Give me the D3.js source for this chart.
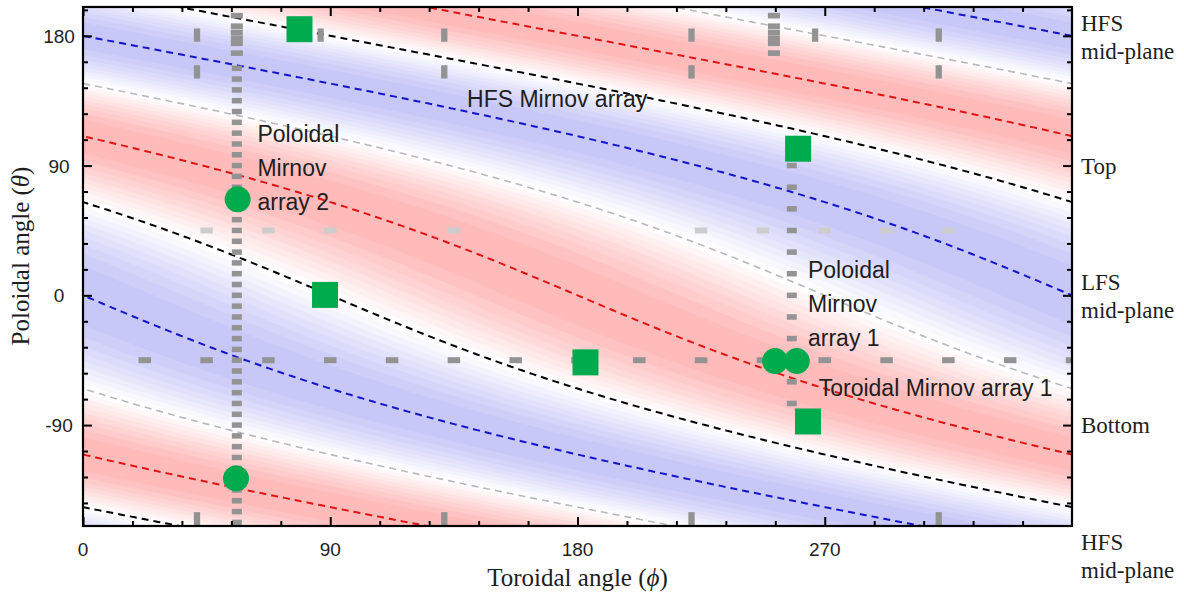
<!DOCTYPE html>
<html><head><meta charset="utf-8">
<script src="https://cdn.jsdelivr.net/npm/d3@7"></script>
<style>body{margin:0;background:#fff} svg{display:block}</style>
</head><body>
<svg id="chart" width="1184" height="597"></svg>
<script>
// ---------------- data ----------------
const xDomain = [0, 360];
const yDomain = [-160, 200];
const xMajorTicks = [0, 90, 180, 270];
const xMinorTicks = [18, 36, 54, 72, 108, 126, 144, 162, 198, 216, 234, 252, 288, 306, 324, 342];
const xTickLabels = ["0", "90", "180", "270"];
const yMajorTicks = [180, 90, 0, -90];
const yMinorTicks = [198, 162, 144, 126, 108, 72, 54, 36, 18, -18, -36, -54, -72, -108, -126, -144];
const yTickLabels = ["180", "90", "0", "-90"];
const rightLabelValues = [180, 90, 0, -90, -180];
const rightLabelTexts = [["HFS", "mid-plane"], ["Top"], ["LFS", "mid-plane"], ["Bottom"], ["HFS", "mid-plane"]];

// helical mode (m/n = 2/1) in straight-field-line poloidal angle
const modeM = 2, modeN = 1, shafranovLambda = 0.38;
const phaseLineNames  = ["blue", "gray", "red", "black"];
const phaseLineValues = [0, 270, 180, 90];
const phaseLineColors = ["#1414c8", "#b9b9b9", "#e01414", "#000000"];

// Mirnov coils
const torArray1Phi = [22.5, 45, 67.5, 90, 112.5, 135, 157.5, 180, 202.5, 225, 247.5, 270, 292.5, 315, 337.5, 360];
const torArray1Theta = -45;
const torArray2Phi = [45, 67.5, 90, 135, 225, 247.5, 270, 292.5, 315];
const torArray2Theta = 45;
const polArray2Phi = 56;
const polArray2Theta = [157.5, 150, 142.5, 135, 127.5, 120, 112.5, 105, 97.5, 90, 82.5, 75, 67.5, 60, 52.5, 45, 37.5, 30, 22.5, 15, 7.5, 0,
  -7.5, -15, -22.5, -30, -37.5, -45, -52.5, -60, -67.5, -75, -82.5, -90, -97.5, -105, -112.5, -120, -127.5, -135, -142.5, -150, -157.5];
const polArray1Phi = 258;
const polArray1Theta = [90, 75, 60, 45, 30, 15, 0, -15, -30, -45, -60, -75];
const hfsClusterPhi = [56, 251.5];
const hfsClusterTheta = [194, 186.7, 182.4, 178.4, 174.8, 168];
const hfsBarPhi = [41.5, 86.5, 131.5, 221.5, 266.5, 311.5];
const hfsBarThetaSets = [[180.5, 155, -155], [180.5], [180.5, 155, -155], [180.5, 155, -155], [180.5], [180.5, 155, -155]];

// green markers
const squarePhi   = [78.8, 260.3, 88.1, 182.9, 263.9];
const squareTheta = [184.6, 101.7, 0.3, -46.5, -87.5];
const circlePhi   = [56.3, 55.7, 251.9, 259.8];
const circleTheta = [66.6, -127, -45.6, -45.6];

// annotations
const annotTexts = [["Poloidal", "Mirnov", "array 2"], ["HFS Mirnov array"], ["Poloidal", "Mirnov", "array 1"], ["Toroidal Mirnov array 1"]];
const annotPhi   = [63.5, 139.8, 263.9, 267.8];
const annotTheta = [106.5, 130.5, 11.8, -70];

// ---------------- drawing ----------------
const plot = {left: 83, right: 1072, top: 7, bottom: 526};
const svg = d3.select("#chart");
const x = d3.scaleLinear().domain(xDomain).range([plot.left, plot.right]);
const y = d3.scaleLinear().domain(yDomain).range([plot.bottom, plot.top]);

svg.append("defs").append("clipPath").attr("id", "clip")
  .append("rect").attr("x", plot.left).attr("y", plot.top)
  .attr("width", plot.right - plot.left).attr("height", plot.bottom - plot.top);

const deg = Math.PI / 180;
const thetaStar = th => th - shafranovLambda * Math.sin(th * deg) / deg;

// background field
const nx = 361, ny = 361;
const values = new Float64Array(nx * ny);
for (let j = 0; j < ny; j++) {
  const th = yDomain[1] - j * (yDomain[1] - yDomain[0]) / (ny - 1);
  const ts = thetaStar(th);
  for (let i = 0; i < nx; i++) {
    const ph = xDomain[0] + i * (xDomain[1] - xDomain[0]) / (nx - 1);
    values[j * nx + i] = -Math.cos((modeM * ts + modeN * ph) * deg);
  }
}
const thresholds = d3.range(-1, 0.999, 0.1);
const contours = d3.contours().size([nx, ny]).thresholds(thresholds)(values);
const redMax = d3.rgb(255, 182, 182), blueMax = d3.rgb(196, 196, 248);
const fillColor = t => {
  const mid = t + 0.05;
  const a = Math.pow(Math.abs(mid), 1.15);
  return mid < 0 ? d3.interpolateRgb("#ffffff", blueMax)(a) : d3.interpolateRgb("#ffffff", redMax)(a);
};
const gridToPx = d3.geoTransform({
  point: function(gx, gy) {
    const ph = xDomain[0] + (gx - 0.5) * (xDomain[1] - xDomain[0]) / (nx - 1);
    const th = yDomain[1] - (gy - 0.5) * (yDomain[1] - yDomain[0]) / (ny - 1);
    this.stream.point(x(ph), y(th));
  }
});
const gField = svg.append("g").attr("clip-path", "url(#clip)");
gField.selectAll("path").data(contours).join("path")
  .attr("d", d3.geoPath(gridToPx))
  .attr("fill", d => fillColor(d.value))
  .attr("stroke", d => fillColor(d.value)).attr("stroke-width", 0.6);

// phase lines
const gLines = svg.append("g").attr("clip-path", "url(#clip)");
const thetaSamples = d3.range(-170, 210.01, 0.5);
const line = d3.line().defined(d => d.ph >= -5 && d.ph <= 365).x(d => x(d.ph)).y(d => y(d.th));
phaseLineValues.forEach((P, idx) => {
  for (let k = -2; k <= 3; k++) {
    const pts = thetaSamples.map(th => ({th, ph: (P + 360 * k - modeM * thetaStar(th)) / modeN}));
    if (!pts.some(d => d.ph >= 0 && d.ph <= 360)) continue;
    gLines.append("path").attr("d", line(pts)).attr("fill", "none")
      .attr("stroke", phaseLineColors[idx])
      .attr("stroke-width", phaseLineNames[idx] === "gray" ? 1.6 : 2)
      .attr("stroke-dasharray", "7,5");
  }
});

// coils
const gCoils = svg.append("g").attr("clip-path", "url(#clip)");
const coilGray = "#939393", coilLight = "#cdcdcd";
function rects(list, w, h, color) {
  gCoils.selectAll(null).data(list).join("rect")
    .attr("x", d => x(d[0]) - w / 2).attr("y", d => y(d[1]) - h / 2)
    .attr("width", w).attr("height", h).attr("fill", color);
}
rects(torArray2Phi.map(p => [p, torArray2Theta]), 12.5, 6, coilLight);
rects(torArray1Phi.map(p => [p, torArray1Theta]), 12.5, 6, coilGray);
rects(polArray2Theta.map(t => [polArray2Phi, t]), 10, 5.5, coilGray);
rects(polArray1Theta.map(t => [polArray1Phi, t]), 10, 5.5, coilGray);
hfsClusterPhi.forEach(p => rects(hfsClusterTheta.map(t => [p, t]), 12, 5.6, coilGray));
hfsBarPhi.forEach((p, i) => rects(hfsBarThetaSets[i].map(t => [p, t]), 6.3, 13.3, coilGray));

// green markers
const green = "#00ab4e";
const gMark = svg.append("g");
gMark.selectAll("rect").data(squarePhi.map((p, i) => [p, squareTheta[i]])).join("rect")
  .attr("x", d => x(d[0]) - 13).attr("y", d => y(d[1]) - 13)
  .attr("width", 26).attr("height", 26).attr("fill", green);
gMark.selectAll("circle").data(circlePhi.map((p, i) => [p, circleTheta[i]])).join("circle")
  .attr("cx", d => x(d[0])).attr("cy", d => y(d[1])).attr("r", 13).attr("fill", green);

// annotations
const gAnn = svg.append("g").attr("font-family", "'Liberation Sans', Arial, sans-serif")
  .attr("font-size", 23).attr("fill", "#1e1e1e");
annotTexts.forEach((lines, i) => {
  const t = gAnn.append("text").attr("x", x(annotPhi[i])).attr("y", y(annotTheta[i]));
  lines.forEach((s, j) => t.append("tspan").attr("x", x(annotPhi[i])).attr("dy", j === 0 ? 0 : 34).text(s));
});

// axes ticks (inward)
function ticks(axisGen, tf, vals, size) {
  const g = svg.append("g").attr("transform", tf)
    .call(axisGen.tickValues(vals).tickSizeInner(size).tickSizeOuter(0).tickFormat(""));
  g.select(".domain").remove();
  g.selectAll(".tick line").attr("stroke", "#000").attr("stroke-width", 2);
}
ticks(d3.axisBottom(x), `translate(0,${plot.bottom})`, xMajorTicks, -9);
ticks(d3.axisBottom(x), `translate(0,${plot.bottom})`, xMinorTicks, -5);
ticks(d3.axisTop(x), `translate(0,${plot.top})`, xMajorTicks, -9);
ticks(d3.axisTop(x), `translate(0,${plot.top})`, xMinorTicks, -5);
ticks(d3.axisLeft(y), `translate(${plot.left},0)`, yMajorTicks, -9);
ticks(d3.axisLeft(y), `translate(${plot.left},0)`, yMinorTicks, -5);
ticks(d3.axisRight(y), `translate(${plot.right},0)`, yMajorTicks, -9);
ticks(d3.axisRight(y), `translate(${plot.right},0)`, yMinorTicks, -5);

svg.append("rect").attr("x", plot.left).attr("y", plot.top)
  .attr("width", plot.right - plot.left).attr("height", plot.bottom - plot.top)
  .attr("fill", "none").attr("stroke", "#000").attr("stroke-width", 2.2);

// tick labels
const sans = "'Liberation Sans', Arial, sans-serif", serif = "'Liberation Serif', 'Times New Roman', serif";
svg.append("g").attr("font-family", sans).attr("font-size", 19).attr("fill", "#1e1e1e")
  .attr("text-anchor", "middle")
  .selectAll("text").data(xMajorTicks).join("text")
  .attr("x", d => x(d)).attr("y", 556).text((d, i) => xTickLabels[i]);
svg.append("g").attr("font-family", sans).attr("font-size", 19).attr("fill", "#1e1e1e")
  .attr("text-anchor", "middle")
  .selectAll("text").data(yMajorTicks).join("text")
  .attr("x", 59).attr("y", d => y(d) + 7).text((d, i) => yTickLabels[i]);

// right side labels
const gR = svg.append("g").attr("font-family", serif).attr("font-size", 23).attr("fill", "#1e1e1e");
rightLabelValues.forEach((v, i) => {
  const lines = rightLabelTexts[i];
  const t = gR.append("text").attr("x", 1081);
  if (lines.length === 1) {
    t.attr("y", y(v) + 8).text(lines[0]);
  } else {
    t.attr("y", y(v) - 5);
    lines.forEach((s, j) => t.append("tspan").attr("x", 1081).attr("dy", j === 0 ? 0 : 28).text(s));
  }
});

// axis titles
const xt = svg.append("text").attr("font-family", serif).attr("font-size", 25).attr("fill", "#1e1e1e")
  .attr("text-anchor", "middle").attr("x", (plot.left + plot.right) / 2).attr("y", 586);
xt.append("tspan").text("Toroidal angle (");
xt.append("tspan").attr("font-style", "italic").text("ϕ");
xt.append("tspan").text(")");
const yt = svg.append("text").attr("font-family", serif).attr("font-size", 25).attr("fill", "#1e1e1e")
  .attr("text-anchor", "middle").attr("transform", "translate(29,256) rotate(-90)");
yt.append("tspan").text("Poloidal angle (");
yt.append("tspan").attr("font-style", "italic").text("θ");
yt.append("tspan").text(")");
</script>
</body></html>
